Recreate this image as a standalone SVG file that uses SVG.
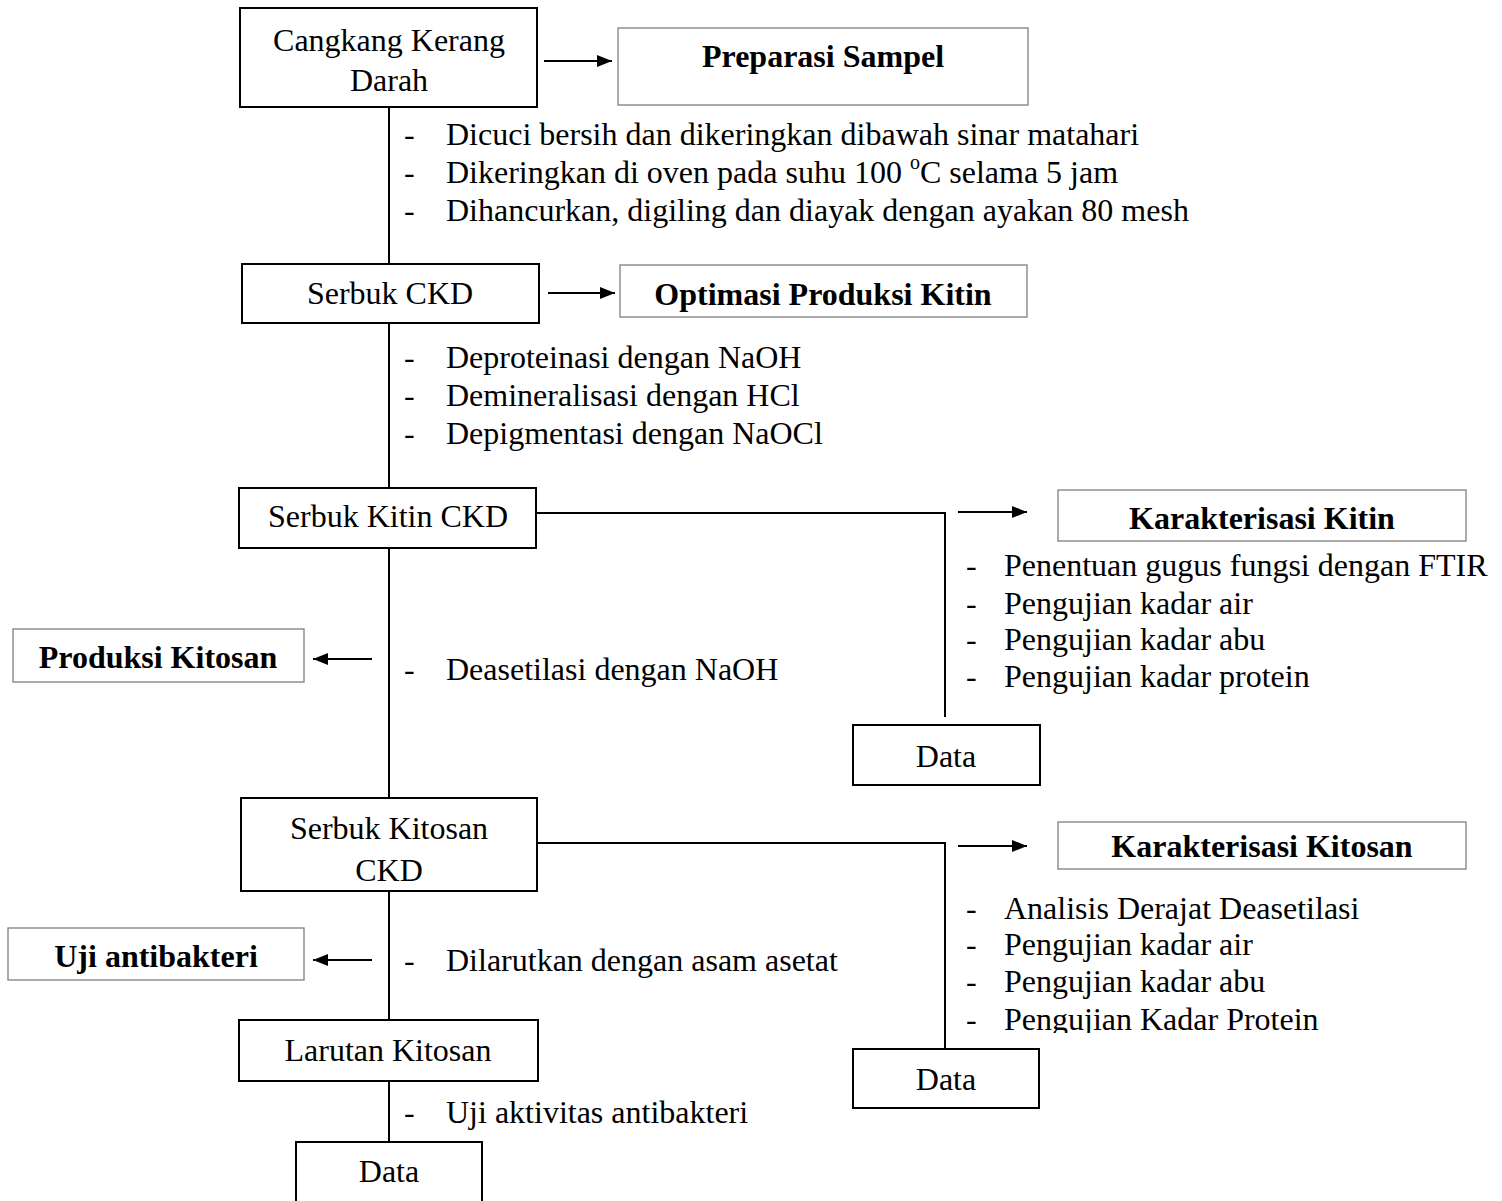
<svg xmlns="http://www.w3.org/2000/svg" width="1502" height="1201" viewBox="0 0 1502 1201">
<style>
.t{font-family:"Liberation Serif","Times New Roman",serif;font-size:32px;fill:#000}
.b{font-family:"Liberation Serif","Times New Roman",serif;font-size:32px;font-weight:bold;fill:#000}
.m{text-anchor:middle}
.box{fill:#fff;stroke:#000;stroke-width:2}
.gbox{fill:#fff;stroke:#7f7f7f;stroke-width:1.3}
.ln{fill:none;stroke:#000;stroke-width:2}
</style>
<defs>
<marker id="ah" viewBox="0 0 15 12" refX="15" refY="6" markerWidth="15" markerHeight="12" markerUnits="userSpaceOnUse" orient="auto">
<path d="M0,0 L15,6 L0,12 Z" fill="#000"/>
</marker>
<clipPath id="clipP"><rect x="990" y="990" width="400" height="43"/></clipPath>
</defs>
<rect width="1502" height="1201" fill="#fff"/>

<g id="connectors">
<path class="ln" d="M389,107 V264"/>
<path class="ln" d="M389,323 V488"/>
<path class="ln" d="M389,548 V798"/>
<path class="ln" d="M389,891 V1020"/>
<path class="ln" d="M389,1081 V1142"/>
<path class="ln" d="M536,513 H945 V717"/>
<path class="ln" d="M537,843 H945 V1049"/>
<path class="ln" d="M544,61 H612" marker-end="url(#ah)"/>
<path class="ln" d="M548,293 H615" marker-end="url(#ah)"/>
<path class="ln" d="M958,512 H1027" marker-end="url(#ah)"/>
<path class="ln" d="M958,846 H1027" marker-end="url(#ah)"/>
<path class="ln" d="M372,659 H313" marker-end="url(#ah)"/>
<path class="ln" d="M372,960 H313" marker-end="url(#ah)"/>
</g>

<g id="n-cangkang">
<rect class="box" x="240" y="8" width="297" height="99"/>
<text class="t m" x="389" y="51">Cangkang Kerang</text>
<text class="t m" x="389" y="91">Darah</text>
</g>
<g id="n-preparasi">
<rect class="gbox" x="618" y="28" width="410" height="77"/>
<text class="b m" x="823" y="67">Preparasi Sampel</text>
</g>
<g id="steps1">
<text class="t" x="404" y="145">-</text><text class="t" x="446" y="145">Dicuci bersih dan dikeringkan dibawah sinar matahari</text>
<text class="t" x="404" y="183">-</text><text class="t" x="446" y="183">Dikeringkan di oven pada suhu 100 <tspan font-size="20" dy="-14">o</tspan><tspan dy="14">C selama 5 jam</tspan></text>
<text class="t" x="404" y="221">-</text><text class="t" x="446" y="221">Dihancurkan, digiling dan diayak dengan ayakan 80 mesh</text>
</g>
<g id="n-serbuk">
<rect class="box" x="242" y="264" width="297" height="59"/>
<text class="t m" x="390" y="304">Serbuk CKD</text>
</g>
<g id="n-optimasi">
<rect class="gbox" x="620" y="265" width="407" height="52"/>
<text class="b m" x="823" y="305">Optimasi Produksi Kitin</text>
</g>
<g id="steps2">
<text class="t" x="404" y="368">-</text><text class="t" x="446" y="368">Deproteinasi dengan NaOH</text>
<text class="t" x="404" y="406">-</text><text class="t" x="446" y="406">Demineralisasi dengan HCl</text>
<text class="t" x="404" y="444">-</text><text class="t" x="446" y="444">Depigmentasi dengan NaOCl</text>
</g>
<g id="n-kitin">
<rect class="box" x="239" y="488" width="297" height="60"/>
<text class="t m" x="388" y="527">Serbuk Kitin CKD</text>
</g>
<g id="n-karkitin">
<rect class="gbox" x="1058" y="490" width="408" height="51"/>
<text class="b m" x="1262" y="529">Karakterisasi Kitin</text>
</g>
<g id="steps-kitin">
<text class="t" x="966" y="576">-</text><text class="t" x="1004" y="576">Penentuan gugus fungsi dengan FTIR</text>
<text class="t" x="966" y="614">-</text><text class="t" x="1004" y="614">Pengujian kadar air</text>
<text class="t" x="966" y="650">-</text><text class="t" x="1004" y="650">Pengujian kadar abu</text>
<text class="t" x="966" y="687">-</text><text class="t" x="1004" y="687">Pengujian kadar protein</text>
</g>
<g id="n-data1">
<rect class="box" x="853" y="725" width="187" height="60"/>
<text class="t m" x="946" y="767">Data</text>
</g>
<g id="n-produksi">
<rect class="gbox" x="13" y="629" width="291" height="53"/>
<text class="b m" x="158" y="668">Produksi Kitosan</text>
</g>
<g id="steps3">
<text class="t" x="404" y="680">-</text><text class="t" x="446" y="680">Deasetilasi dengan NaOH</text>
</g>
<g id="n-kitosan">
<rect class="box" x="241" y="798" width="296" height="93"/>
<text class="t m" x="389" y="839">Serbuk Kitosan</text>
<text class="t m" x="389" y="881">CKD</text>
</g>
<g id="n-karkitosan">
<rect class="gbox" x="1058" y="822" width="408" height="47"/>
<text class="b m" x="1262" y="857">Karakterisasi Kitosan</text>
</g>
<g id="steps-kitosan">
<text class="t" x="966" y="919">-</text><text class="t" x="1004" y="919">Analisis Derajat Deasetilasi</text>
<text class="t" x="966" y="955">-</text><text class="t" x="1004" y="955">Pengujian kadar air</text>
<text class="t" x="966" y="992">-</text><text class="t" x="1004" y="992">Pengujian kadar abu</text>
<text class="t" x="966" y="1030">-</text><text class="t" x="1004" y="1030" clip-path="url(#clipP)">Pengujian Kadar Protein</text>
</g>
<g id="n-data2">
<rect class="box" x="853" y="1049" width="186" height="59"/>
<text class="t m" x="946" y="1090">Data</text>
</g>
<g id="n-uji">
<rect class="gbox" x="8" y="928" width="296" height="52"/>
<text class="b m" x="156" y="967">Uji antibakteri</text>
</g>
<g id="steps4">
<text class="t" x="404" y="971">-</text><text class="t" x="446" y="971">Dilarutkan dengan asam asetat</text>
</g>
<g id="n-larutan">
<rect class="box" x="239" y="1020" width="299" height="61"/>
<text class="t m" x="388" y="1061">Larutan Kitosan</text>
</g>
<g id="steps5">
<text class="t" x="404" y="1123">-</text><text class="t" x="446" y="1123">Uji aktivitas antibakteri</text>
</g>
<g id="n-data3">
<rect class="box" x="296" y="1142" width="186" height="70"/>
<text class="t m" x="389" y="1182">Data</text>
</g>
</svg>
